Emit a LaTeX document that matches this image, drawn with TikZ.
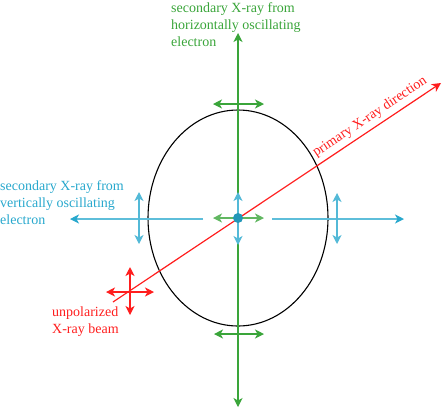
\documentclass[tikz,border=0pt]{standalone}
\usepackage{fontspec}
\setmainfont{Liberation Serif}
\usetikzlibrary{arrows.meta}
\definecolor{xgreen}{RGB}{58,165,58}
\definecolor{xcyan}{RGB}{40,168,205}
\definecolor{xred}{RGB}{255,30,30}
\tikzset{hd/.tip={Stealth[length=9pt,width=9pt,inset=2.5pt]}}
\begin{document}
\begin{tikzpicture}[x=1pt,y=-1pt,
  tip/.style={-hd},
  dtip/.style={hd-hd},
  ln/.style={line width=1.2pt},
  lbl/.style={font=\fontsize{14}{17}\selectfont, align=left, inner sep=0pt, anchor=west}]
\useasboundingbox (0,0) rectangle (443,408);
% ellipse
\draw[line width=1.1pt] (238,218) ellipse [x radius=90, y radius=108];
% green main axis
\coordinate (gc) at (238,218);
\coordinate (gtop) at (238,33);
\coordinate (gbot) at (238,407);
\draw[ln, xgreen, tip] (gc) -- (gtop);
\draw[ln, xgreen, tip] (gc) -- (gbot);
% cyan main axis
\coordinate (cl0) at (203,219); \coordinate (cl1) at (70,219);
\coordinate (cr0) at (272,219); \coordinate (cr1) at (404,219);
\draw[ln, xcyan!75, -{Stealth[length=9pt,width=9pt,inset=2.5pt,fill=xcyan,color=xcyan]}] (cl0) -- (cl1);
\draw[ln, xcyan!75, -{Stealth[length=9pt,width=9pt,inset=2.5pt,fill=xcyan,color=xcyan]}] (cr0) -- (cr1);
% red primary beam
\coordinate (r0) at (113,302); \coordinate (r1) at (441,83);
\draw[ln, xred, tip] (r0) -- (r1);
\node[font=\fontsize{14}{17}\selectfont, text=xred, rotate=33.7, inner sep=0pt] (plbl) at (370,117) {primary X-ray direction};
% green double arrows
\coordinate (gt0) at (213,104); \coordinate (gt1) at (264,104);
\draw[ln, xgreen, dtip] (gt0) -- (gt1);
\coordinate (gb0) at (214,334); \coordinate (gb1) at (264,334);
\draw[ln, xgreen, dtip] (gb0) -- (gb1);
\coordinate (gc0) at (213,218); \coordinate (gc1) at (264,218);
\draw[ln, xgreen!80, dtip] (gc0) -- (gc1);
% cyan double arrows
\coordinate (cv0) at (238,192); \coordinate (cv1) at (238,245);
\draw[ln, xcyan!80, dtip] (cv0) -- (cv1);
\coordinate (cL0) at (139,192); \coordinate (cL1) at (139,244);
\draw[ln, xcyan!80, dtip] (cL0) -- (cL1);
\coordinate (cR0) at (337,193); \coordinate (cR1) at (337,244);
\draw[ln, xcyan!80, dtip] (cR0) -- (cR1);
% red cross
\coordinate (rh0) at (106,292); \coordinate (rh1) at (154,292);
\coordinate (rv0) at (130,267); \coordinate (rv1) at (130,315);
\draw[ln, xred, dtip] (rh0) -- (rh1);
\draw[ln, xred, dtip] (rv0) -- (rv1);
% electron
\node[circle, fill=xcyan!90!black, minimum size=10pt, inner sep=0pt] (e) at (238,218) {};
% labels
\node[lbl, text=xgreen] (gl) at (171,25) {secondary X-ray from\\horizontally oscillating\\electron};
\node[lbl, text=xcyan] (cl) at (0,203) {secondary X-ray from\\vertically oscillating\\electron};
\node[lbl, text=xred] (rl) at (52,322) {unpolarized\\X-ray beam};
\end{tikzpicture}
\end{document}
